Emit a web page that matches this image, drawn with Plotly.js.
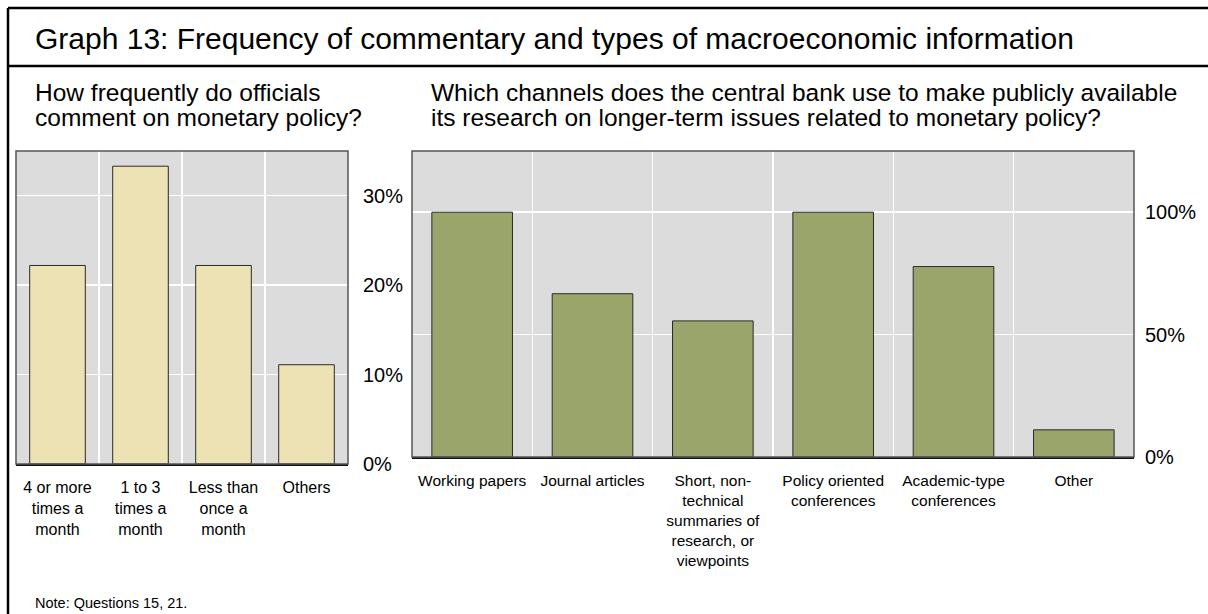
<!DOCTYPE html>
<html>
<head>
<meta charset="utf-8">
<script src="https://cdn.plot.ly/plotly-3.0.1.min.js"></script>
<style>
  html, body { margin: 0; padding: 0; background: #ffffff; }
  #chart { width: 1208px; height: 614px; }
</style>
</head>
<body>
<div id="chart"></div>
<script>
// ---- Data ----
const chartTitle = "Graph 13: Frequency of commentary and types of macroeconomic information";
const leftSubtitle = ["How frequently do officials", "comment on monetary policy?"];
const rightSubtitle = ["Which channels does the central bank use to make publicly available",
                       "its research on longer-term issues related to monetary policy?"];
const noteText = "Note: Questions 15, 21.";

const freqCategories = ["4 or more<br>times a<br>month", "1 to 3<br>times a<br>month",
                        "Less than<br>once a<br>month", "Others"];
const freqValues = [22.2, 33.3, 22.2, 11.1];
const freqTicks = [0, 10, 20, 30];
const freqTickLabels = ["0%", "10%", "20%", "30%"];

const channelCategories = ["Working papers", "Journal articles",
  "Short, non-<br>technical<br>summaries of<br>research, or<br>viewpoints",
  "Policy oriented<br>conferences", "Academic-type<br>conferences", "Other"];
const channelValues = [100, 66.7, 55.6, 100, 77.8, 11.1];
const channelTicks = [0, 50, 100];
const channelTickLabels = ["0%", "50%", "100%"];

// ---- Layout helpers ----
const W = 1208, H = 614;
const px = v => v / W;
const py = v => 1 - v / H;
const FONT = "Liberation Sans, Arial, Helvetica, sans-serif";

const traces = [
  {
    type: "bar", x: freqCategories, y: freqValues, xaxis: "x", yaxis: "y",
    marker: { color: "#ECE2B4", line: { color: "#2a2a2a", width: 1 } },
    hoverinfo: "skip"
  },
  {
    type: "bar", x: channelCategories, y: channelValues, xaxis: "x2", yaxis: "y2",
    marker: { color: "#9AA56C", line: { color: "#2a2a2a", width: 1 } },
    hoverinfo: "skip"
  }
];

const gridColor = "#ffffff";
const layout = {
  width: W, height: H,
  margin: { l: 0, r: 0, t: 0, b: 0 },
  paper_bgcolor: "#ffffff",
  plot_bgcolor: "#DCDCDC",
  showlegend: false,
  bargap: 0.33,
  font: { family: FONT, color: "#000000" },
  xaxis: {
    domain: [px(16), px(348)], anchor: "y",
    type: "category", tickson: "boundaries", ticks: "",
    showgrid: true, gridcolor: gridColor, gridwidth: 1.5,
    showline: true, linecolor: "#111111", linewidth: 2,
    tickfont: { size: 16, family: FONT }, ticklabelstandoff: 8,
    fixedrange: true
  },
  yaxis: {
    domain: [py(464), py(151)], anchor: "x",
    range: [0, 35], tickmode: "array", tickvals: freqTicks, ticktext: freqTickLabels,
    side: "right", ticks: "", ticklabelstandoff: 14,
    showgrid: true, gridcolor: gridColor, gridwidth: 1.5,
    zeroline: false, showline: false,
    tickfont: { size: 20, family: FONT },
    fixedrange: true
  },
  xaxis2: {
    domain: [px(412), px(1134)], anchor: "y2",
    type: "category", tickson: "boundaries", ticks: "",
    showgrid: true, gridcolor: gridColor, gridwidth: 1.5,
    showline: true, linecolor: "#111111", linewidth: 2,
    tickfont: { size: 15.5, family: FONT }, ticklabelstandoff: 8,
    fixedrange: true
  },
  yaxis2: {
    domain: [py(457), py(151)], anchor: "x2",
    range: [0, 125], tickmode: "array", tickvals: channelTicks, ticktext: channelTickLabels,
    side: "right", ticks: "", ticklabelstandoff: 10,
    showgrid: true, gridcolor: gridColor, gridwidth: 1.5,
    zeroline: false, showline: false,
    tickfont: { size: 20, family: FONT },
    fixedrange: true
  },
  shapes: [
    // outer frame
    { type: "line", xref: "paper", yref: "paper", x0: px(8), x1: px(8), y0: py(8), y1: py(614), line: { color: "#000", width: 2.5 } },
    { type: "line", xref: "paper", yref: "paper", x0: px(8), x1: 1, y0: py(8), y1: py(8), line: { color: "#000", width: 2.5 } },
    { type: "line", xref: "paper", yref: "paper", x0: px(8), x1: 1, y0: py(66), y1: py(66), line: { color: "#000", width: 2.5 } },
    // plot borders
    { type: "rect", xref: "x domain", yref: "y domain", x0: 0, x1: 1, y0: 0, y1: 1, line: { color: "#555555", width: 1.5 }, layer: "above" },
    { type: "rect", xref: "x2 domain", yref: "y2 domain", x0: 0, x1: 1, y0: 0, y1: 1, line: { color: "#555555", width: 1.5 }, layer: "above" }
  ],
  annotations: [
    { text: chartTitle, xref: "paper", yref: "paper", x: px(33), y: py(38), xanchor: "left", yanchor: "middle", showarrow: false, font: { size: 30, family: FONT } },
    { text: leftSubtitle[0], xref: "paper", yref: "paper", x: px(33), y: py(92), xanchor: "left", yanchor: "middle", showarrow: false, font: { size: 24.5, family: FONT } },
    { text: leftSubtitle[1], xref: "paper", yref: "paper", x: px(33), y: py(118), xanchor: "left", yanchor: "middle", showarrow: false, font: { size: 24.5, family: FONT } },
    { text: rightSubtitle[0], xref: "paper", yref: "paper", x: px(429), y: py(92), xanchor: "left", yanchor: "middle", showarrow: false, font: { size: 24.5, family: FONT } },
    { text: rightSubtitle[1], xref: "paper", yref: "paper", x: px(429), y: py(118), xanchor: "left", yanchor: "middle", showarrow: false, font: { size: 24.5, family: FONT } },
    { text: noteText, xref: "paper", yref: "paper", x: px(33), y: py(603), xanchor: "left", yanchor: "middle", showarrow: false, font: { size: 14.5, family: FONT } }
  ]
};

Plotly.newPlot("chart", traces, layout, { staticPlot: true, displayModeBar: false });
</script>
</body>
</html>
